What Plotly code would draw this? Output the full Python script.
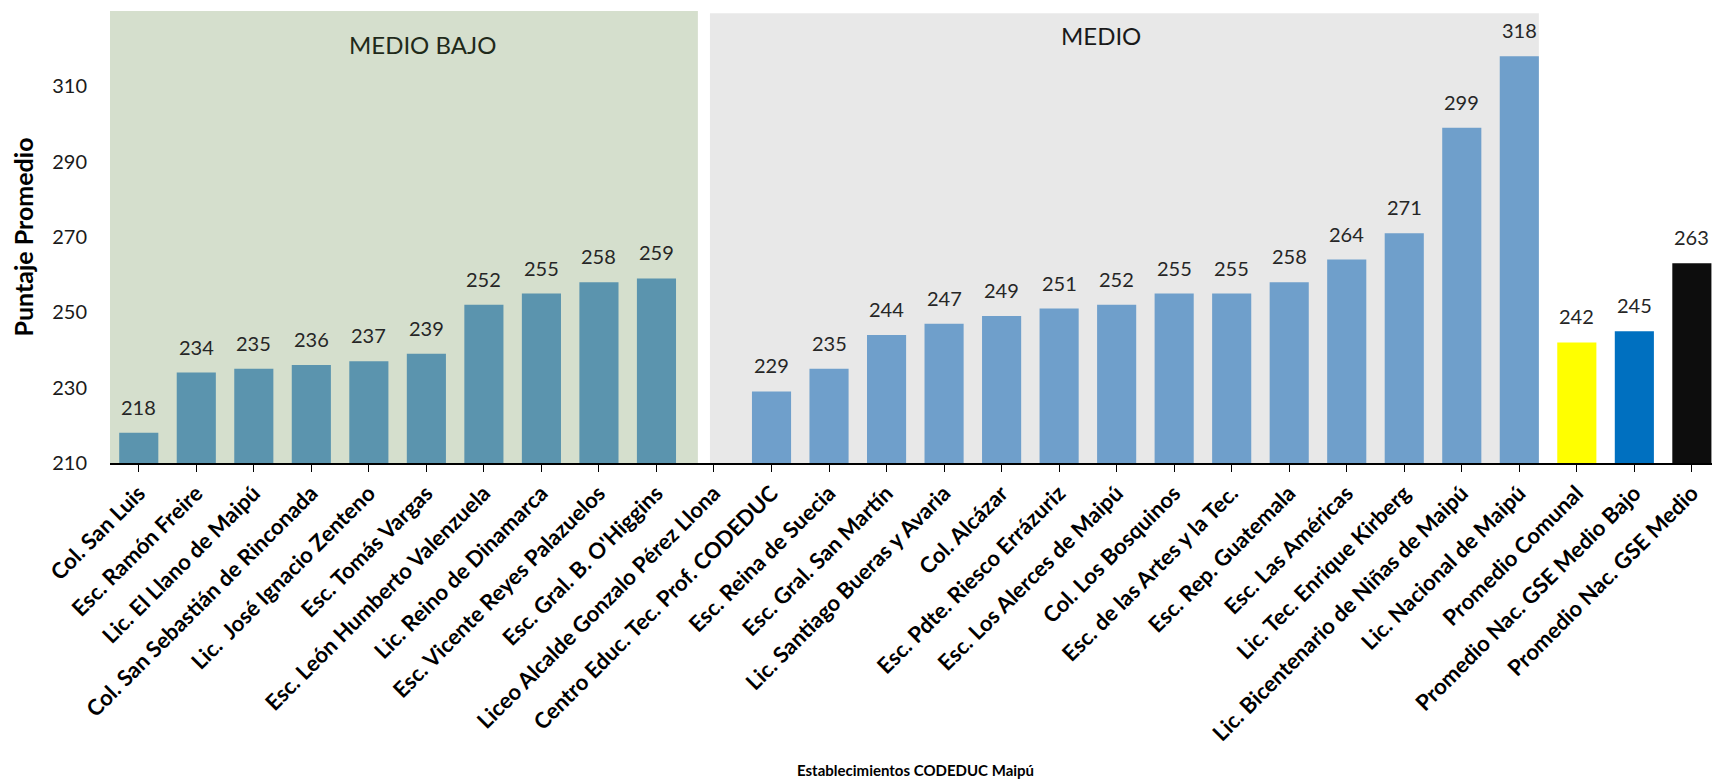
import plotly.graph_objects as go

categories = [
    "Col. San Luis", "Esc. Ramón Freire", "Lic. El Llano de Maipú",
    "Col. San Sebastián de Rinconada", "Lic.  José Ignacio Zenteno",
    "Esc. Tomás Vargas", "Esc. León Humberto Valenzuela",
    "Lic. Reino de Dinamarca", "Esc. Vicente Reyes Palazuelos",
    "Esc. Gral. B. O'Higgins", "Liceo Alcalde Gonzalo Pérez Llona",
    "Centro Educ. Tec. Prof. CODEDUC", "Esc. Reina de Suecia",
    "Esc. Gral. San Martín", "Lic. Santiago Bueras y Avaria", "Col. Alcázar",
    "Esc. Pdte. Riesco Errázuriz", "Esc. Los Alerces de Maipú",
    "Col. Los Bosquinos", "Esc. de las Artes y la Tec.", "Esc. Rep. Guatemala",
    "Esc. Las Américas", "Lic. Tec. Enrique Kirberg",
    "Lic. Bicentenario de Niñas de Maipú", "Lic. Nacional de Maipú",
    "Promedio Comunal", "Promedio Nac. GSE Medio Bajo", "Promedio Nac. GSE Medio",
]
values = [218, 234, 235, 236, 237, 239, 252, 255, 258, 259, None,
          229, 235, 244, 247, 249, 251, 252, 255, 255, 258, 264, 271, 299, 318,
          242, 245, 263]
groups = (["medio_bajo"] * 10 + ["medio"] * 15 +
          ["comunal", "nac_medio_bajo", "nac_medio"])

group_colors = {
    "medio_bajo": "#5b94ae",
    "medio": "#6f9fcb",
    "comunal": "#ffff00",
    "nac_medio_bajo": "#0070c0",
    "nac_medio": "#0d0d0d",
}
y_ticks = [210, 230, 250, 270, 290, 310]

FONT = "Lato"

x_idx = list(range(len(categories)))
fig = go.Figure()
fig.add_trace(go.Bar(
    x=x_idx, y=values,
    marker=dict(color=[group_colors[g] for g in groups], line=dict(width=0)),
    width=0.68,
    hoverinfo="skip",
))

# background bands
fig.add_shape(type="rect", xref="x", yref="paper", x0=-0.56, x1=9.72, y0=0, y1=1,
              fillcolor="#d5dfcd", line=dict(width=0), layer="below")
fig.add_shape(type="rect", xref="x", yref="paper", x0=9.93, x1=24.34, y0=0, y1=0.995,
              fillcolor="#e8e8e8", line=dict(width=0), layer="below")

annotations = []
for i, v in enumerate(values):
    if v is None:
        continue
    annotations.append(dict(x=i, y=v, xref="x", yref="y", text=str(v),
                            showarrow=False, yanchor="bottom", yshift=12,
                            font=dict(family=FONT, size=20, color="#262626")))
annotations.append(dict(x=4.94, y=0.926, xref="x", yref="paper", text="MEDIO BAJO",
                        showarrow=False, yanchor="middle",
                        font=dict(family=FONT, size=24, color="#1f2a1a")))
annotations.append(dict(x=16.73, y=0.946, xref="x", yref="paper", text="MEDIO",
                        showarrow=False, yanchor="middle",
                        font=dict(family=FONT, size=24, color="#1a1a1a")))
annotations.append(dict(x=-0.054, y=0.5, xref="paper", yref="paper",
                        text="<b>Puntaje Promedio</b>", textangle=-90,
                        showarrow=False, xanchor="center", yanchor="middle",
                        font=dict(family=FONT, size=25, color="#000000")))
annotations.append(dict(x=0.503, y=-0.68, xref="paper", yref="paper",
                        text="<b>Establecimientos CODEDUC Maipú</b>",
                        showarrow=False, xanchor="center", yanchor="middle",
                        font=dict(family=FONT, size=15, color="#000000")))

fig.update_layout(
    width=1712, height=784,
    margin=dict(l=110, r=0, t=11, b=321),
    paper_bgcolor="white", plot_bgcolor="white",
    showlegend=False,
    annotations=annotations,
    bargap=0.32,
)
fig.update_xaxes(
    tickmode="array", tickvals=x_idx, ticktext=[f"<b>{c}</b>" for c in categories],
    tickangle=-45, range=[-0.5, 27.35],
    tickfont=dict(family=FONT, size=22, color="#000000"),
    showline=True, linecolor="#000000", linewidth=1.5,
    ticks="outside", tickson="boundaries", ticklen=7, tickcolor="#000000",
    showgrid=False, zeroline=False,
)
fig.update_yaxes(
    range=[210, 330], tickmode="array", tickvals=y_ticks,
    tickfont=dict(family=FONT, size=20, color="#1a1a1a"),
    showgrid=False, zeroline=False, showline=False, ticks="",
    ticklabelstandoff=22,
)

fig.write_html("out.html", config={"displayModeBar": False},
               post_script="document.body.style.margin='0';document.body.style.overflow='hidden';")
